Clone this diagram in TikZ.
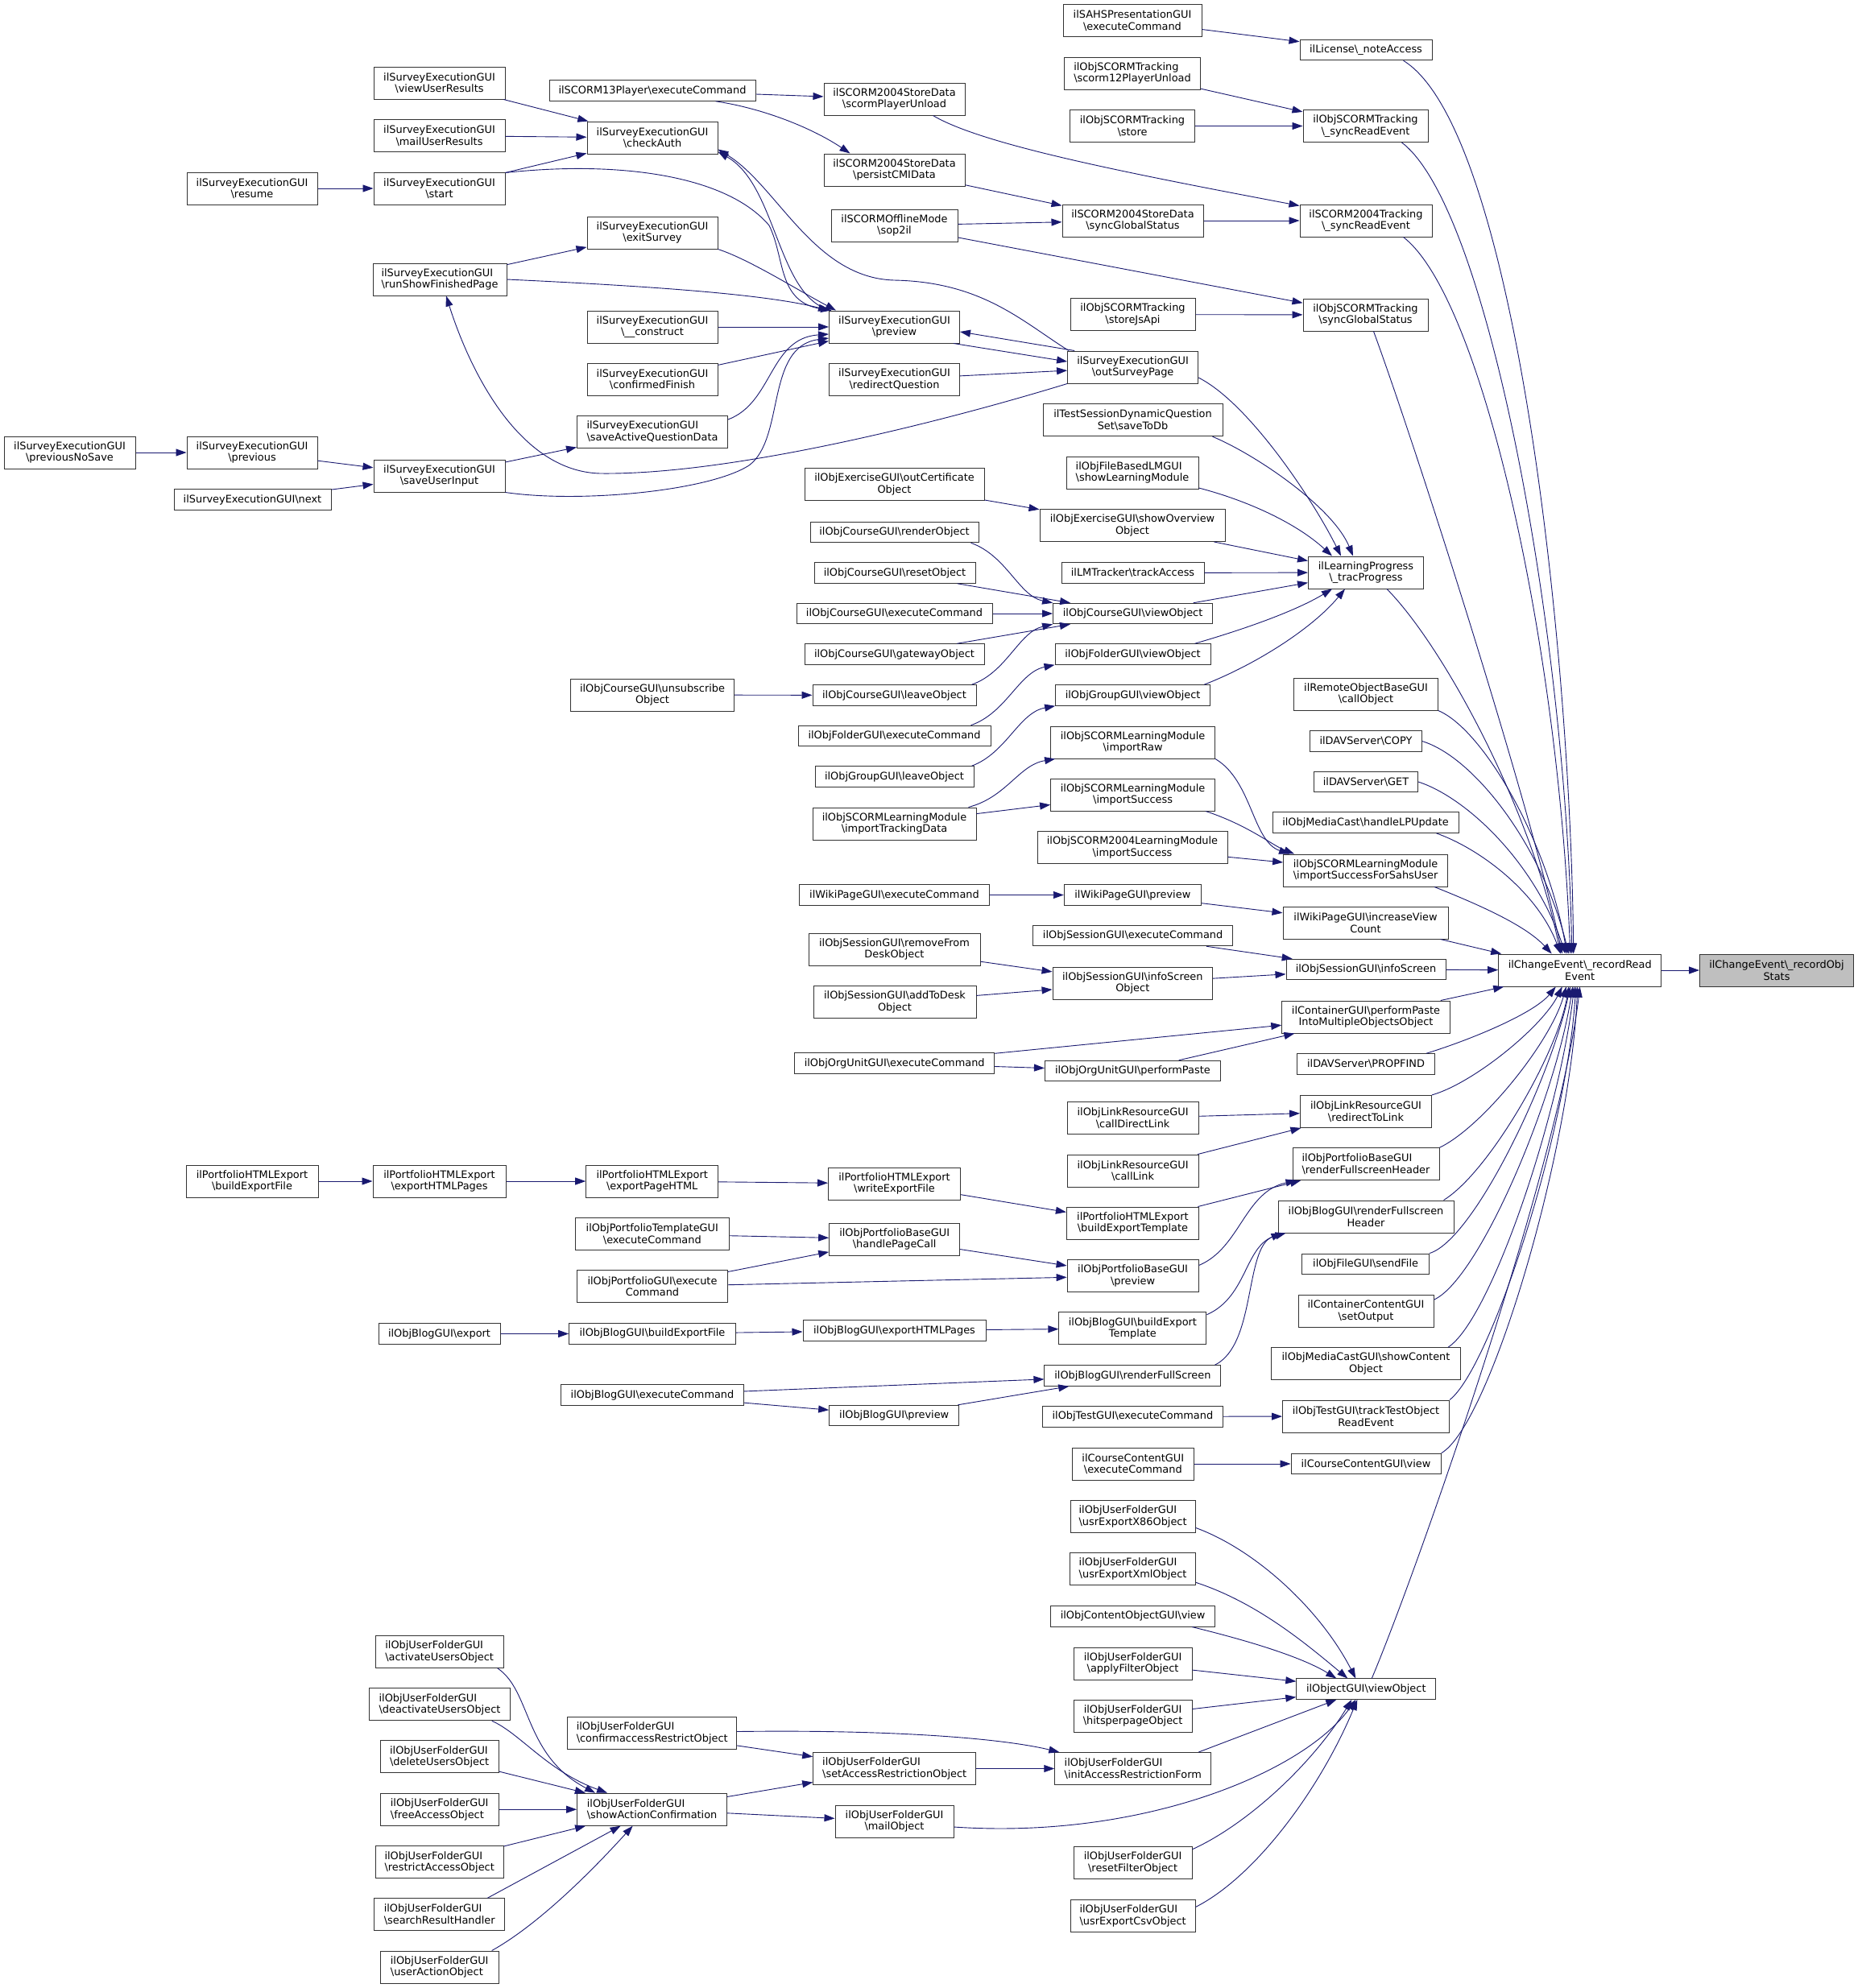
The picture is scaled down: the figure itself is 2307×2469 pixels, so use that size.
\documentclass[tikz,border=0pt]{standalone}
\usepackage{fontspec}
\setmainfont{DejaVu Sans}
\usepackage{tikz}
\usetikzlibrary{arrows.meta}
\definecolor{EdgeBlue}{HTML}{191970}
\definecolor{BoxGray}{HTML}{BFBFBF}
\definecolor{LineGray}{HTML}{333333}
\tikzset{
  bx/.style={draw=LineGray, fill=white, line width=1pt, inner xsep=4pt, inner ysep=2pt,
             font=\fontsize{12.9}{14.6}\selectfont},
  fn/.style={bx, minimum height=25.5pt},
  fn2/.style={bx, align=center, minimum height=40pt},
  fnl/.style={bx, align=left, minimum height=40pt},
  cur/.style={fn2, fill=BoxGray},
  ar/.style={draw=EdgeBlue, line width=0.9pt, -{Triangle[length=13pt,width=9pt]}},
}
\newcommand{\bsl}{\textbackslash{}}

\begin{document}
\begin{tikzpicture}[x=1pt, y=-1pt]
  \fill[white] (0,0) rectangle (2307,2469);
  \useasboundingbox (0,0) rectangle (2307,2469);

  % survey execution
  \node[fn2, minimum width=163pt] (sePNS) at (86.5,562) {ilSurveyExecutionGUI\\\bsl previousNoSave};
  \node[fn2, minimum width=162pt] (sePrev) at (313,562) {ilSurveyExecutionGUI\\\bsl previous};
  \node[fn, minimum width=195pt] (seNext) at (313.5,620.5) {ilSurveyExecutionGUI\bsl next};
  \node[fn2, minimum width=162pt] (seResume) at (313,234) {ilSurveyExecutionGUI\\\bsl resume};
  \node[fn2, minimum width=163pt] (seView) at (545.5,103) {ilSurveyExecutionGUI\\\bsl viewUserResults};
  \node[fn2, minimum width=163pt] (seMail) at (545.5,168.6) {ilSurveyExecutionGUI\\\bsl mailUserResults};
  \node[fn2, minimum width=163pt] (seStart) at (545.5,234) {ilSurveyExecutionGUI\\\bsl start};
  \node[fnl, minimum width=166pt] (seRSFP) at (546,347) {ilSurveyExecutionGUI\\\bsl runShowFinishedPage};
  \node[fn2, minimum width=163pt] (seSUI) at (545.5,591) {ilSurveyExecutionGUI\\\bsl saveUserInput};
  \node[fn2, minimum width=162pt] (seAuth) at (810,171) {ilSurveyExecutionGUI\\\bsl checkAuth};
  \node[fn2, minimum width=162pt] (seExit) at (810,289) {ilSurveyExecutionGUI\\\bsl exitSurvey};
  \node[fn2, minimum width=162pt] (seCons) at (810,406) {ilSurveyExecutionGUI\\\bsl\_\_construct};
  \node[fn2, minimum width=162pt] (seConf) at (810,471) {ilSurveyExecutionGUI\\\bsl confirmedFinish};
  \node[fnl, minimum width=187pt] (seSAQD) at (810,536) {ilSurveyExecutionGUI\\\bsl saveActiveQuestionData};
  \node[fn2, minimum width=162pt] (sePreview) at (1110.5,406) {ilSurveyExecutionGUI\\\bsl preview};
  \node[fn2, minimum width=162pt] (seRedir) at (1110.5,471) {ilSurveyExecutionGUI\\\bsl redirectQuestion};
  \node[fn2, minimum width=162pt] (seOSP) at (1406.6,456) {ilSurveyExecutionGUI\\\bsl outSurveyPage};

  % scorm
  \node[fn, minimum width=256pt] (scoPlayer) at (810,112.5) {ilSCORM13Player\bsl executeCommand};
  \node[fn2, minimum width=175pt] (scoUnload) at (1110.5,123) {ilSCORM2004StoreData\\\bsl scormPlayerUnload};
  \node[fn2, minimum width=175pt] (scoPersist) at (1110.5,211) {ilSCORM2004StoreData\\\bsl persistCMIData};
  \node[fn2, minimum width=157pt] (scoOffline) at (1110.5,280) {ilSCORMOfflineMode\\\bsl sop2il};
  \node[fn2, minimum width=172pt] (sahsExec) at (1406,25.7) {ilSAHSPresentationGUI\\\bsl executeCommand};
  \node[fnl, minimum width=169pt] (trkUnload) at (1406,91) {ilObjSCORMTracking\\\bsl scorm12PlayerUnload};
  \node[fn2, minimum width=155pt] (trkStore) at (1406,156.5) {ilObjSCORMTracking\\\bsl store};
  \node[fn2, minimum width=175pt] (sdSync) at (1406.5,274) {ilSCORM2004StoreData\\\bsl syncGlobalStatus};
  \node[fn2, minimum width=155pt] (trkJs) at (1406.5,390.6) {ilObjSCORMTracking\\\bsl storeJsApi};
  \node[fn, minimum width=164pt] (licNote) at (1696,62) {ilLicense\bsl\_noteAccess};
  \node[fn2, minimum width=155pt] (trkSRE) at (1695.5,156.5) {ilObjSCORMTracking\\\bsl\_syncReadEvent};
  \node[fn2, minimum width=164pt] (s04SRE) at (1696,274) {ilSCORM2004Tracking\\\bsl\_syncReadEvent};
  \node[fn2, minimum width=155pt] (trkSync) at (1695.5,391) {ilObjSCORMTracking\\\bsl syncGlobalStatus};

  % learning progress
  \node[fn2, minimum width=223pt] (tstSave) at (1406.5,521.7) {ilTestSessionDynamicQuestion\\Set\bsl saveToDb};
  \node[fnl, minimum width=164pt] (flmShow) at (1406,587) {ilObjFileBasedLMGUI\\\bsl showLearningModule};
  \node[fn2, minimum width=223pt] (exCert) at (1110.5,601.7) {ilObjExerciseGUI\bsl outCertificate\\Object};
  \node[fn2, minimum width=230pt] (exOver) at (1406,652.5) {ilObjExerciseGUI\bsl showOverview\\Object};
  \node[fn, minimum width=177pt] (lmTrack) at (1406.5,711.5) {ilLMTracker\bsl trackAccess};
  \node[fn2, minimum width=143pt] (lpTrac) at (1696,711) {ilLearningProgress\\\bsl\_tracProgress};
  \node[fn, minimum width=209pt] (crsRender) at (1110.5,661) {ilObjCourseGUI\bsl renderObject};
  \node[fn, minimum width=200pt] (crsReset) at (1111,711.5) {ilObjCourseGUI\bsl resetObject};
  \node[fn, minimum width=243pt] (crsExec) at (1110.5,762) {ilObjCourseGUI\bsl executeCommand};
  \node[fn, minimum width=223pt] (crsGate) at (1110.5,812.5) {ilObjCourseGUI\bsl gatewayObject};
  \node[fn, minimum width=203pt] (crsLeave) at (1110.5,863.5) {ilObjCourseGUI\bsl leaveObject};
  \node[fn2, minimum width=203pt] (crsUnsub) at (810,863) {ilObjCourseGUI\bsl unsubscribe\\Object};
  \node[fn, minimum width=198pt] (crsView) at (1406.6,762) {ilObjCourseGUI\bsl viewObject};
  \node[fn, minimum width=193pt] (fldView) at (1406.5,812.5) {ilObjFolderGUI\bsl viewObject};
  \node[fn, minimum width=192pt] (grpView) at (1406.6,863.5) {ilObjGroupGUI\bsl viewObject};
  \node[fn, minimum width=239pt] (fldExec) at (1110.5,914) {ilObjFolderGUI\bsl executeCommand};
  \node[fn, minimum width=197pt] (grpLeave) at (1110.5,964.5) {ilObjGroupGUI\bsl leaveObject};

  % scorm learning module, wiki, session
  \node[fn2, minimum width=204pt] (slmRaw) at (1406.6,922) {ilObjSCORMLearningModule\\\bsl importRaw};
  \node[fn2, minimum width=204pt] (slmSucc) at (1406.6,987) {ilObjSCORMLearningModule\\\bsl importSuccess};
  \node[fn2, minimum width=203pt] (slmTrack) at (1110.5,1023) {ilObjSCORMLearningModule\\\bsl importTrackingData};
  \node[fn2, minimum width=236pt] (s04Succ) at (1406,1052.7) {ilObjSCORM2004LearningModule\\\bsl importSuccess};
  \node[fn, minimum width=236pt] (wikiExec) at (1110.5,1111.5) {ilWikiPageGUI\bsl executeCommand};
  \node[fn, minimum width=170pt] (wikiPrev) at (1406.3,1111.5) {ilWikiPageGUI\bsl preview};
  \node[fn, minimum width=248pt] (sessExec) at (1406.6,1162) {ilObjSessionGUI\bsl executeCommand};
  \node[fn2, minimum width=213pt] (sessRemove) at (1110.5,1179) {ilObjSessionGUI\bsl removeFrom\\DeskObject};
  \node[fn2, minimum width=198.5pt] (sessISO) at (1406.3,1221) {ilObjSessionGUI\bsl infoScreen\\Object};
  \node[fn2, minimum width=202pt] (sessAdd) at (1111,1244.5) {ilObjSessionGUI\bsl addToDesk\\Object};
  \node[fn, minimum width=248pt] (orgExec) at (1110.7,1320.5) {ilObjOrgUnitGUI\bsl executeCommand};
  \node[fn, minimum width=218pt] (orgPaste) at (1406.4,1330) {ilObjOrgUnitGUI\bsl performPaste};
  \node[fn2, minimum width=163pt] (lnkDirect) at (1406.6,1388.6) {ilObjLinkResourceGUI\\\bsl callDirectLink};
  \node[fn2, minimum width=163pt] (lnkCall) at (1406.6,1454) {ilObjLinkResourceGUI\\\bsl callLink};

  % portfolio and blog
  \node[fn2, minimum width=164pt] (pfBuildFile) at (313,1467) {ilPortfolioHTMLExport\\\bsl buildExportFile};
  \node[fn2, minimum width=165pt] (pfExpPages) at (545.5,1467) {ilPortfolioHTMLExport\\\bsl exportHTMLPages};
  \node[fn2, minimum width=164pt] (pfExpPage) at (809.7,1467) {ilPortfolioHTMLExport\\\bsl exportPageHTML};
  \node[fn2, minimum width=164pt] (pfWrite) at (1110.5,1470) {ilPortfolioHTMLExport\\\bsl writeExportFile};
  \node[fn2, minimum width=164pt] (pfBuildTpl) at (1406.4,1519) {ilPortfolioHTMLExport\\\bsl buildExportTemplate};
  \node[fn2, minimum width=191.6pt] (pftExec) at (809.8,1532.7) {ilObjPortfolioTemplateGUI\\\bsl executeCommand};
  \node[fn2, minimum width=162pt] (pfHandle) at (1110.7,1539) {ilObjPortfolioBaseGUI\\\bsl handlePageCall};
  \node[fn2, minimum width=187pt] (pfgExec) at (810,1597.8) {ilObjPortfolioGUI\bsl execute\\Command};
  \node[fn2, minimum width=163pt] (pfPreview) at (1406.6,1584.5) {ilObjPortfolioBaseGUI\\\bsl preview};
  \node[fn, minimum width=151pt] (blgExport) at (545.5,1656.5) {ilObjBlogGUI\bsl export};
  \node[fn, minimum width=206.7pt] (blgBuildFile) at (810,1656.4) {ilObjBlogGUI\bsl buildExportFile};
  \node[fn, minimum width=227pt] (blgExpPages) at (1110.5,1652.5) {ilObjBlogGUI\bsl exportHTMLPages};
  \node[fn2, minimum width=183pt] (blgBuildTpl) at (1406.4,1649.8) {ilObjBlogGUI\bsl buildExport\\Template};
  \node[fn, minimum width=219pt] (blgRFS) at (1406.4,1708.5) {ilObjBlogGUI\bsl renderFullScreen};
  \node[fn, minimum width=227pt] (blgExec) at (810,1732.5) {ilObjBlogGUI\bsl executeCommand};
  \node[fn, minimum width=161pt] (blgPrev) at (1110.2,1758) {ilObjBlogGUI\bsl preview};
  \node[fn, minimum width=224pt] (tstExec) at (1406.4,1759.3) {ilObjTestGUI\bsl executeCommand};
  \node[fn2, minimum width=150.5pt] (ccExec) at (1406.8,1818) {ilCourseContentGUI\\\bsl executeCommand};

  % user folder
  \node[fnl, minimum width=155pt] (ufX86) at (1406.6,1883.4) {ilObjUserFolderGUI\\\bsl usrExportX86Object};
  \node[fnl, minimum width=156pt] (ufXml) at (1406.6,1948.4) {ilObjUserFolderGUI\\\bsl usrExportXmlObject};
  \node[fn, minimum width=204pt] (cobjView) at (1406.6,2007.3) {ilObjContentObjectGUI\bsl view};
  \node[fn2, minimum width=147pt] (ufApply) at (1406.6,2066) {ilObjUserFolderGUI\\\bsl applyFilterObject};
  \node[fn2, minimum width=147pt] (ufHits) at (1406.6,2131) {ilObjUserFolderGUI\\\bsl hitsperpageObject};
  \node[fnl, minimum width=194pt] (ufInit) at (1406.8,2196.5) {ilObjUserFolderGUI\\\bsl initAccessRestrictionForm};
  \node[fn2, minimum width=147pt] (ufReset) at (1406.6,2313.7) {ilObjUserFolderGUI\\\bsl resetFilterObject};
  \node[fnl, minimum width=155pt] (ufCsv) at (1406.6,2379.4) {ilObjUserFolderGUI\\\bsl usrExportCsvObject};
  \node[fnl, minimum width=210pt] (ufConfirm) at (809.7,2152.5) {ilObjUserFolderGUI\\\bsl confirmaccessRestrictObject};
  \node[fnl, minimum width=202pt] (ufSetAR) at (1110.7,2196.5) {ilObjUserFolderGUI\\\bsl setAccessRestrictionObject};
  \node[fnl, minimum width=186pt] (ufShowAC) at (809.6,2247.2) {ilObjUserFolderGUI\\\bsl showActionConfirmation};
  \node[fn2, minimum width=147pt] (ufMail) at (1110.5,2262) {ilObjUserFolderGUI\\\bsl mailObject};
  \node[fnl, minimum width=159pt] (ufActivate) at (545.7,2051.3) {ilObjUserFolderGUI\\\bsl activateUsersObject};
  \node[fnl, minimum width=174.5pt] (ufDeactivate) at (546,2116.8) {ilObjUserFolderGUI\\\bsl deactivateUsersObject};
  \node[fnl, minimum width=147pt] (ufDelete) at (545.7,2181.8) {ilObjUserFolderGUI\\\bsl deleteUsersObject};
  \node[fnl, minimum width=147pt] (ufFree) at (545.7,2247.2) {ilObjUserFolderGUI\\\bsl freeAccessObject};
  \node[fnl, minimum width=159pt] (ufRestrict) at (545.7,2312.8) {ilObjUserFolderGUI\\\bsl restrictAccessObject};
  \node[fnl, minimum width=162pt] (ufSearch) at (545.7,2377.8) {ilObjUserFolderGUI\\\bsl searchResultHandler};
  \node[fnl, minimum width=147pt] (ufUser) at (545.7,2443) {ilObjUserFolderGUI\\\bsl userActionObject};

  % direct callers of _recordReadEvent
  \node[fn2, minimum width=178.5pt] (rmtCall) at (1696,862) {ilRemoteObjectBaseGUI\\\bsl callObject};
  \node[fn, minimum width=138.5pt] (davCopy) at (1696,920.5) {ilDAVServer\bsl COPY};
  \node[fn, minimum width=129pt] (davGet) at (1696,971) {ilDAVServer\bsl GET};
  \node[fn, minimum width=231pt] (mcLP) at (1695.5,1021.6) {ilObjMediaCast\bsl handleLPUpdate};
  \node[fnl, minimum width=204pt] (slmSahs) at (1695.6,1081) {ilObjSCORMLearningModule\\\bsl importSuccessForSahsUser};
  \node[fn2, minimum width=205pt] (wikiInc) at (1695.5,1146) {ilWikiPageGUI\bsl increaseView\\Count};
  \node[fn, minimum width=198pt] (sessIS) at (1696,1204) {ilObjSessionGUI\bsl infoScreen};
  \node[fn2, minimum width=208.5pt] (contPaste) at (1696,1263) {ilContainerGUI\bsl performPaste\\IntoMultipleObjectsObject};
  \node[fn, minimum width=171pt] (davProp) at (1696,1321.5) {ilDAVServer\bsl PROPFIND};
  \node[fn2, minimum width=163pt] (lnkRedir) at (1696,1380.4) {ilObjLinkResourceGUI\\\bsl redirectToLink};
  \node[fnl, minimum width=182pt] (pfRFH) at (1696,1445.7) {ilObjPortfolioBaseGUI\\\bsl renderFullscreenHeader};
  \node[fn2, minimum width=218pt] (blgRFH) at (1696,1511) {ilObjBlogGUI\bsl renderFullscreen\\Header};
  \node[fn, minimum width=157.5pt] (fileSend) at (1695.6,1569.8) {ilObjFileGUI\bsl sendFile};
  \node[fn2, minimum width=168pt] (ccSet) at (1696,1628.6) {ilContainerContentGUI\\\bsl setOutput};
  \node[fn2, minimum width=235pt] (mcShow) at (1696,1693.7) {ilObjMediaCastGUI\bsl showContent\\Object};
  \node[fn2, minimum width=207pt] (tstTrack) at (1696,1759) {ilObjTestGUI\bsl trackTestObject\\ReadEvent};
  \node[fn, minimum width=186pt] (ccView) at (1696,1818) {ilCourseContentGUI\bsl view};
  \node[fn, minimum width=173pt] (objView) at (1696.3,2097.7) {ilObjectGUI\bsl viewObject};
  \node[fn2, minimum width=202pt] (readEv) at (1961.7,1205) {ilChangeEvent\bsl\_recordRead\\Event};
  \node[cur, minimum width=191pt] (objStats) at (2206,1205) {ilChangeEvent\bsl\_recordObj\\Stats};

  \draw[ar] (readEv) -- (objStats);

  \draw[ar] ([xshift=-36pt]licNote.south east) .. controls (1880,160) and (1950,800) .. ([xshift=-8pt]readEv.north);
  \draw[ar] ([xshift=-33pt]trkSRE.south east) .. controls (1850,260) and (1945,800) .. ([xshift=-10pt]readEv.north);
  \draw[ar] ([xshift=-36pt]s04SRE.south east) .. controls (1840,370) and (1935,800) .. ([xshift=-12pt]readEv.north);
  \draw[ar] ([xshift=10pt]trkSync.south) .. controls (1760,560) and (1900,1000) .. ([xshift=-22pt]readEv.north);
  \draw[ar] ([xshift=26pt]lpTrac.south) .. controls (1790,800) and (1900,1000) .. ([xshift=-24pt]readEv.north);
  \draw[ar] (rmtCall.south east) .. controls (1840,905) and (1920,1040) .. ([xshift=-16pt]readEv.north);
  \draw[ar] (davCopy.east) .. controls (1830,940) and (1915,1050) .. ([xshift=-14pt]readEv.north);
  \draw[ar] (davGet.east) .. controls (1820,990) and (1905,1070) .. ([xshift=-18pt]readEv.north);
  \draw[ar] ([xshift=-28pt]mcLP.south east) .. controls (1840,1055) and (1910,1110) .. ([xshift=-24pt]readEv.north);
  \draw[ar] ([xshift=-17pt]slmSahs.south east) .. controls (1840,1125) and (1895,1150) .. ([xshift=-35pt]readEv.north);
  \draw[ar] ([xshift=-10pt]wikiInc.south east) -- ([xshift=4pt]readEv.north west);
  \draw[ar] (sessIS) -- (readEv);
  \draw[ar] ([xshift=-12pt]contPaste.north east) -- ([xshift=7pt]readEv.south west);
  \draw[ar] ([xshift=-11pt]davProp.north east) .. controls (1830,1290) and (1905,1258) .. ([xshift=-30pt]readEv.south);
  \draw[ar] (lnkRedir.north east) .. controls (1830,1345) and (1915,1275) .. ([xshift=-22pt]readEv.south);
  \draw[ar] (pfRFH.north east) .. controls (1840,1400) and (1925,1295) .. ([xshift=-17pt]readEv.south);
  \draw[ar] ([xshift=-13pt]blgRFH.north east) .. controls (1850,1455) and (1935,1305) .. ([xshift=-14pt]readEv.south);
  \draw[ar] (fileSend.north east) .. controls (1830,1540) and (1925,1340) .. ([xshift=-12pt]readEv.south);
  \draw[ar] ([yshift=-6pt]ccSet.north east) .. controls (1835,1590) and (1930,1370) .. ([xshift=-9pt]readEv.south);
  \draw[ar] ([xshift=-16pt]mcShow.north east) .. controls (1850,1640) and (1935,1390) .. ([xshift=-7pt]readEv.south);
  \draw[ar] (tstTrack.north east) .. controls (1850,1700) and (1945,1410) .. ([xshift=-5pt]readEv.south);
  \draw[ar] (ccView.north east) .. controls (1850,1770) and (1950,1430) .. ([xshift=-3pt]readEv.south);
  \draw[ar] ([xshift=7pt]objView.north) .. controls (1760,1950) and (1935,1450) .. (readEv.south);

  \draw[ar] (sahsExec) -- (licNote);
  \draw[ar] (trkUnload) -- (trkSRE);
  \draw[ar] (trkStore) -- (trkSRE);
  \draw[ar] ([xshift=-40pt]scoUnload.south east) .. controls (1220,180) and (1400,215) .. ([yshift=-2pt]s04SRE.north west);
  \draw[ar] (sdSync) -- (s04SRE);
  \draw[ar] (scoOffline) -- (trkSync);
  \draw[ar] (trkJs) -- (trkSync);
  \draw[ar] (scoPersist) -- (sdSync);
  \draw[ar] (scoOffline) -- (sdSync);
  \draw[ar] (scoPlayer) -- (scoUnload);
  \draw[ar] ([xshift=-50pt]scoPlayer.south east) .. controls (950,135) and (1010,160) .. ([xshift=-55pt]scoPersist.north);

  \draw[ar] ([yshift=-13pt]seOSP.east) .. controls (1550,500) and (1630,620) .. ([xshift=-31pt]lpTrac.north);
  \draw[ar] ([xshift=-13pt]tstSave.south east) .. controls (1560,565) and (1655,630) .. ([xshift=-16pt]lpTrac.north);
  \draw[ar] ([yshift=-19pt]flmShow.east) .. controls (1550,622) and (1610,650) .. ([xshift=-42pt]lpTrac.north);
  \draw[ar] (exOver) -- (lpTrac);
  \draw[ar] (lmTrack) -- (lpTrac);
  \draw[ar] (crsView) -- (lpTrac);
  \draw[ar] ([xshift=-20pt]fldView.north east) .. controls (1550,780) and (1610,758) .. ([xshift=-42pt]lpTrac.south);
  \draw[ar] ([xshift=-8pt]grpView.north east) .. controls (1560,825) and (1630,780) .. ([xshift=-26pt]lpTrac.south);
  \draw[ar] (exCert) -- (exOver);
  \draw[ar] ([xshift=-10pt]crsRender.south east) .. controls (1250,690) and (1265,740) .. (crsView.north west);
  \draw[ar] (crsReset) -- (crsView);
  \draw[ar] (crsExec) -- (crsView);
  \draw[ar] (crsGate) -- (crsView);
  \draw[ar] ([xshift=-6pt]crsLeave.north east) .. controls (1250,835) and (1265,785) .. (crsView.south west);
  \draw[ar] (crsUnsub) -- (crsLeave);
  \draw[ar] ([xshift=-25pt]fldExec.north east) .. controls (1250,885) and (1265,835) .. (fldView.south west);
  \draw[ar] ([xshift=-3pt]grpLeave.north east) .. controls (1250,935) and (1265,885) .. (grpView.south west);

  \draw[ar] ([xshift=-10pt]slmTrack.north east) .. controls (1250,990) and (1265,950) .. ([xshift=6pt]slmRaw.south west);
  \draw[ar] (slmTrack) -- (slmSucc);
  \draw[ar] (slmRaw.south east) .. controls (1555,970) and (1555,1045) .. ([xshift=8pt]slmSahs.north west);
  \draw[ar] ([xshift=-12pt]slmSucc.south east) .. controls (1550,1025) and (1580,1050) .. ([xshift=14pt]slmSahs.north west);
  \draw[ar] (s04Succ) -- (slmSahs);
  \draw[ar] (wikiExec) -- (wikiPrev);
  \draw[ar] (wikiPrev) -- (wikiInc);
  \draw[ar] (sessExec) -- (sessIS);
  \draw[ar] (sessISO) -- (sessIS);
  \draw[ar] (sessRemove) -- (sessISO);
  \draw[ar] (sessAdd) -- (sessISO);
  \draw[ar] (orgExec) -- (contPaste);
  \draw[ar] (orgExec) -- (orgPaste);
  \draw[ar] (orgPaste) -- (contPaste);
  \draw[ar] (lnkDirect) -- (lnkRedir);
  \draw[ar] (lnkCall) -- (lnkRedir);

  \draw[ar] (pfBuildTpl) -- (pfRFH);
  \draw[ar] ([yshift=13pt]pfPreview.east) .. controls (1540,1550) and (1545,1480) .. ([xshift=5pt]pfRFH.south west);
  \draw[ar] ([yshift=17pt]blgBuildTpl.east) .. controls (1550,1610) and (1545,1545) .. ([xshift=10pt]blgRFH.south west);
  \draw[ar] ([xshift=-8pt]blgRFS.north east) .. controls (1560,1670) and (1545,1550) .. ([xshift=5pt]blgRFH.south west);
  \draw[ar] (tstExec) -- (tstTrack);
  \draw[ar] (ccExec) -- (ccView);
  \draw[ar] (pfBuildFile) -- (pfExpPages);
  \draw[ar] (pfExpPages) -- (pfExpPage);
  \draw[ar] (pfExpPage) -- (pfWrite);
  \draw[ar] (pfWrite) -- (pfBuildTpl);
  \draw[ar] (pftExec) -- (pfHandle);
  \draw[ar] (pfgExec) -- (pfHandle);
  \draw[ar] (pfgExec) -- (pfPreview);
  \draw[ar] (pfHandle) -- (pfPreview);
  \draw[ar] (blgExport) -- (blgBuildFile);
  \draw[ar] (blgBuildFile) -- (blgExpPages);
  \draw[ar] (blgExpPages) -- (blgBuildTpl);
  \draw[ar] (blgExec) -- (blgRFS);
  \draw[ar] (blgExec) -- (blgPrev);
  \draw[ar] (blgPrev) -- (blgRFS);

  \draw[ar] ([yshift=-14pt]ufX86.east) .. controls (1560,1925) and (1640,2000) .. ([xshift=-13pt]objView.north);
  \draw[ar] ([yshift=-17pt]ufXml.east) .. controls (1560,1990) and (1620,2040) .. ([xshift=-23pt]objView.north);
  \draw[ar] ([xshift=-29pt]cobjView.south east) .. controls (1560,2040) and (1620,2060) .. ([xshift=-37pt]objView.north);
  \draw[ar] (ufApply) -- (objView);
  \draw[ar] (ufHits) -- (objView);
  \draw[ar] ([xshift=-16pt]ufInit.north east) -- ([xshift=-37pt]objView.south);
  \draw[ar] ([yshift=-7pt]ufMail.east) .. controls (1420,2285) and (1620,2200) .. ([xshift=-13pt]objView.south);
  \draw[ar] ([yshift=17pt]ufReset.east) .. controls (1550,2265) and (1630,2190) .. ([xshift=-18pt]objView.south);
  \draw[ar] ([yshift=11pt]ufCsv.east) .. controls (1560,2330) and (1640,2220) .. ([xshift=-11pt]objView.south);
  \draw[ar] ([yshift=2pt]ufConfirm.east) .. controls (1100,2148) and (1240,2158) .. ([xshift=6pt]ufInit.north west);
  \draw[ar] (ufConfirm) -- (ufSetAR);
  \draw[ar] (ufSetAR) -- (ufInit);
  \draw[ar] (ufShowAC) -- (ufSetAR);
  \draw[ar] (ufShowAC) -- (ufMail);
  \draw[ar] ([xshift=-8pt]ufActivate.south east) .. controls (660,2100) and (650,2180) .. ([xshift=23pt]ufShowAC.north west);
  \draw[ar] ([xshift=-23pt]ufDeactivate.south east) .. controls (645,2152) and (680,2200) .. ([xshift=38pt]ufShowAC.north west);
  \draw[ar] (ufDelete) -- (ufShowAC);
  \draw[ar] (ufFree) -- (ufShowAC);
  \draw[ar] (ufRestrict) -- (ufShowAC);
  \draw[ar] ([xshift=-22pt]ufSearch.north east) -- ([xshift=-39pt]ufShowAC.south);
  \draw[ar] ([xshift=-9pt]ufUser.north east) .. controls (660,2395) and (720,2340) .. ([xshift=-24pt]ufShowAC.south);

  \draw[ar] (sePNS) -- (sePrev);
  \draw[ar] (sePrev) -- (seSUI);
  \draw[ar] (seNext) -- (seSUI);
  \draw[ar] (seResume) -- (seStart);
  \draw[ar] (seView) -- (seAuth);
  \draw[ar] (seMail) -- (seAuth);
  \draw[ar] (seStart) -- (seAuth);
  \draw[ar] (seRSFP) -- (seExit);
  \draw[ar] (seSUI) -- (seSAQD);
  \draw[ar] (seCons) -- (sePreview);
  \draw[ar] (seConf) -- (sePreview);
  \draw[ar] (seRedir) -- (seOSP);
  \draw[ar] ([yshift=-1pt]seStart.north east) .. controls (760,200) and (900,215) .. (955,280)
       .. controls (975,320) and (965,375) .. ([xshift=3pt]sePreview.north west);
  \draw[ar] (seRSFP.east) .. controls (800,355) and (950,365) .. (sePreview.north west);
  \draw[ar] (seExit.south east) .. controls (930,322) and (990,360) .. ([xshift=9pt]sePreview.north west);
  \draw[ar] ([yshift=15pt]seSAQD.east) .. controls (960,500) and (955,420) .. ([yshift=-9pt]sePreview.west);
  \draw[ar] (seSUI.south east) .. controls (720,625) and (880,610) .. (930,578)
       .. controls (975,545) and (950,430) .. ([yshift=-14pt]sePreview.west);
  \draw[ar] ([xshift=3pt]sePreview.north west) .. controls (965,370) and (965,230) .. ([yshift=3pt]seAuth.south east);
  \draw[ar] ([xshift=2pt]seOSP.north west) .. controls (1270,400) and (1220,350) .. (1110,348)
       .. controls (1010,345) and (965,230) .. ([yshift=6pt]seAuth.south east);
  \draw[ar] ([xshift=-8pt]sePreview.south east) -- ([yshift=7pt]seOSP.west);
  \draw[ar] ([xshift=9pt]seOSP.north west) -- ([yshift=-6pt]sePreview.east);
  \draw[ar] (seOSP.south west) .. controls (1150,530) and (900,590) .. (745,588)
       .. controls (640,585) and (580,450) .. ([xshift=8pt]seRSFP.south);
\end{tikzpicture}
\end{document}
